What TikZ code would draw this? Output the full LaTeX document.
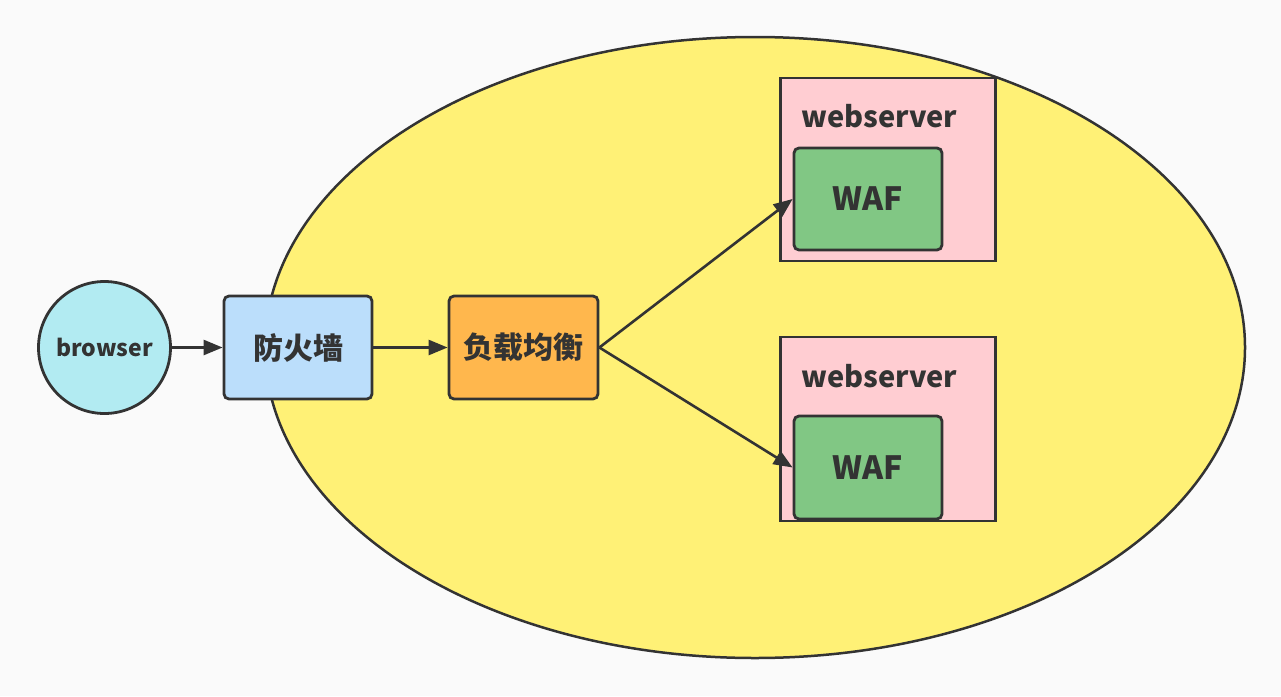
\documentclass[tikz,border=0pt]{standalone}
\usepackage{fontspec}
\setmainfont{Noto Sans CJK SC}
\usetikzlibrary{arrows.meta,shapes.geometric}
\definecolor{bg}{HTML}{FAFAFA}
\definecolor{ln}{HTML}{333333}
\definecolor{ell}{HTML}{FFF176}
\definecolor{cyanf}{HTML}{B2EBF2}
\definecolor{bluef}{HTML}{BBDEFB}
\definecolor{orangef}{HTML}{FFB74D}
\definecolor{pinkf}{HTML}{FFCDD2}
\definecolor{greenf}{HTML}{81C784}
\begin{document}
\begin{tikzpicture}[x=1pt,y=-1pt,
  every node/.style={text=ln,font=\bfseries},
  rbox/.style={draw=ln,line width=2.8pt,rounded corners=5pt,inner sep=0pt},
  wsbox/.style={draw=ln,line width=2.8pt,fill=pinkf,minimum width=215pt,minimum height=183pt,inner sep=0pt},
  conn/.style={draw=ln,line width=2.6pt,-{Triangle[length=19pt,width=15pt]}}]
\fill[bg] (0,0) rectangle (1281,696);
\useasboundingbox (0,0) rectangle (1281,696);
\node[draw=ln,line width=2.5pt,fill=ell,ellipse,minimum width=980pt,minimum height=621pt,inner sep=0pt] (zone) at (755,347.5) {};
\node[circle,draw=ln,line width=2.8pt,fill=cyanf,minimum size=132pt,inner sep=0pt,font=\bfseries\fontsize{23}{27}\selectfont] (browser) at (104.5,347.5) {browser};
\node[rbox,fill=bluef,minimum width=148pt,minimum height=103pt,font=\bfseries\fontsize{30}{36}\selectfont] (fw) at (298,347.5) {防火墙};
\node[rbox,fill=orangef,minimum width=149pt,minimum height=103pt,font=\bfseries\fontsize{30}{36}\selectfont] (lb) at (523.5,347.5) {负载均衡};
\node[wsbox] (ws1) at (888,169.5) {};
\node[font=\bfseries\fontsize{29}{35}\selectfont] (ws1t) at (879.5,116) {webserver};
\node[rbox,fill=greenf,minimum width=148pt,minimum height=102pt,font=\bfseries\fontsize{32}{38}\selectfont] (waf1) at (868,199) {WAF};
\node[wsbox,minimum height=184pt] (ws2) at (888,429) {};
\node[font=\bfseries\fontsize{29}{35}\selectfont] (ws2t) at (879.5,376) {webserver};
\node[rbox,fill=greenf,minimum width=148pt,minimum height=103pt,font=\bfseries\fontsize{32}{38}\selectfont] (waf2) at (868,467.5) {WAF};
\draw[conn] (browser) -- (fw);
\draw[conn] (fw) -- (lb);
\draw[conn] (lb.east) -- (waf1.west);
\draw[conn] (lb.east) -- (waf2.west);
\end{tikzpicture}
\end{document}
